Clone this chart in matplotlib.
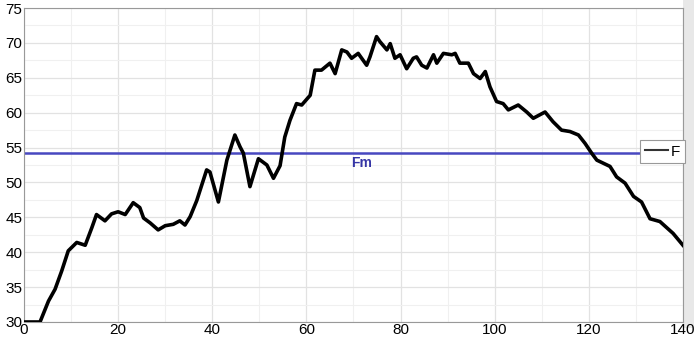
import numpy as np
import matplotlib.pyplot as plt
from matplotlib.ticker import MultipleLocator
from matplotlib.patches import Rectangle

# Donnees
x_vals = [0, 3.4, 5.2, 6.6, 8.0, 9.4, 11.2, 13.0, 14.4, 15.4, 17.2, 18.6, 20.0, 21.5,
          23.2, 24.6, 25.4, 26.8, 28.5, 30.0, 31.7, 33.1, 34.2, 35.3, 36.7, 37.7, 38.8,
          39.5, 41.3, 43.1, 44.8, 45.9, 46.6, 48.0, 49.8, 51.6, 53.0, 54.4, 55.4, 56.5,
          57.9, 59.0, 60.8, 61.8, 63.2, 65.0, 66.1, 67.5, 68.6, 69.6, 71.0, 72.8, 73.5,
          74.9, 75.6, 77.1, 77.8, 78.8, 79.9, 81.3, 82.7, 83.4, 84.5, 85.6, 87.0, 87.7,
          89.1, 90.9, 91.6, 92.6, 94.4, 95.5, 96.9, 98.0, 99.0, 100.4, 101.8, 102.9,
          105.0, 106.8, 108.2, 110.7, 112.4, 114.2, 116.0, 117.8, 119.2, 120.6, 121.7,
          124.5, 125.9, 127.7, 129.5, 131.2, 133.0, 135.1, 137.9, 140]
f_vals = [30, 30, 33.0, 34.7, 37.3, 40.2, 41.4, 41.0, 43.5, 45.4, 44.5, 45.5, 45.8, 45.4,
          47.1, 46.4, 44.9, 44.2, 43.2, 43.8, 44.0, 44.5, 43.9, 45.1, 47.4, 49.5, 51.8,
          51.5, 47.2, 53.2, 56.8, 55.1, 54.2, 49.4, 53.4, 52.5, 50.6, 52.4, 56.5, 58.9,
          61.3, 61.1, 62.5, 66.1, 66.1, 67.1, 65.6, 69.0, 68.7, 67.8, 68.5, 66.8, 68.0,
          70.9, 70.2, 69.0, 69.9, 67.8, 68.3, 66.3, 67.8, 68.0, 66.8, 66.4, 68.3, 67.1,
          68.5, 68.3, 68.5, 67.1, 67.1, 65.6, 64.9, 65.9, 63.7, 61.6, 61.3, 60.4,
          61.1, 60.1, 59.2, 60.1, 58.7, 57.5, 57.3, 56.8, 55.6, 54.2, 53.2,
          52.3, 50.8, 49.9, 48.0, 47.2, 44.8, 44.4, 42.7, 41.0]
fm = 54.2

plt.rcParams['font.family'] = ['Liberation Sans', 'DejaVu Sans']

fig = plt.figure(figsize=(6.94, 3.42), dpi=100, facecolor='white')
ax = fig.add_axes([0.0346, 0.0585, 0.9495, 0.918])

# bande grise a droite (sous les textes)
strip = Rectangle((0.984, 0.04), 0.016, 0.96, transform=fig.transFigure,
                  facecolor='#e8e8e8', edgecolor='none', zorder=-5)
fig.add_artist(strip)

ax.plot(x_vals, f_vals, color='black', lw=2.6, label='F', zorder=3)
ax.axhline(fm, color='#4848c0', lw=1.8, zorder=2)
ax.text(71.8, 52.8, 'Fm', color='#3535a5', fontsize=10, fontweight='bold',
        ha='center', va='center')

ax.set_xlim(0, 140)
ax.set_ylim(30, 75)
ax.xaxis.set_major_locator(MultipleLocator(20))
ax.xaxis.set_minor_locator(MultipleLocator(10))
ax.yaxis.set_major_locator(MultipleLocator(5))
ax.yaxis.set_minor_locator(MultipleLocator(2.5))
ax.grid(which='major', color='#e2e2e2', lw=0.9)
ax.grid(which='minor', color='#f0f0f0', lw=0.8)
ax.tick_params(which='both', length=0, labelsize=11, pad=1)
for s in ax.spines.values():
    s.set_color('#999999')

leg = ax.legend(loc='center left', bbox_to_anchor=(0.935, 0.543), handlelength=1.5,
                fontsize=11, fancybox=False, framealpha=1, edgecolor='#999999',
                borderpad=0.3, handletextpad=0.2, borderaxespad=0)
leg.get_frame().set_linewidth(0.8)
for h in leg.get_lines():
    h.set_linewidth(1.5)
    h.set_color('#333333')

fig.savefig('out.png', dpi=100)
